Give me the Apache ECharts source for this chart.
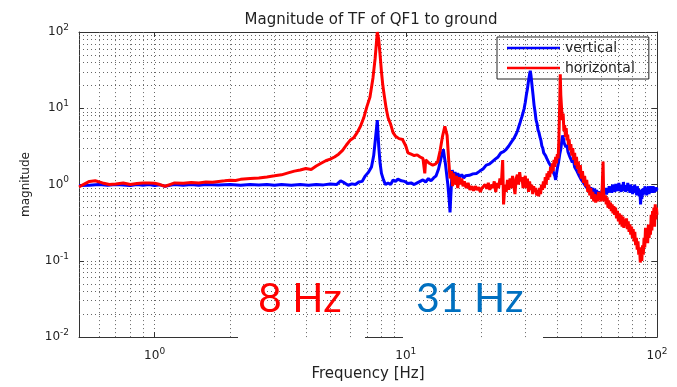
<!DOCTYPE html>
<html>
<head>
<meta charset="utf-8">
<script src="https://cdn.jsdelivr.net/npm/echarts@6/dist/echarts.min.js"></script>
<style>html,body{margin:0;padding:0;background:#fff}#c{width:677px;height:387px}</style>
</head>
<body>
<div id="c"></div>
<script>
// ---- data ----
var titleText = 'Magnitude of TF of QF1 to ground';
var seriesNames = ['vertical', 'horizontal'];
var xMajorTicks = [1, 10, 100];
var yMajorTicks = [0.01, 0.1, 1, 10, 100];
var annotations = ['8 Hz', '31 Hz'];

// [frequency Hz, magnitude]
var verticalData = [[0.5,0.97],[0.55,0.98],[0.6,1.0],[0.65,0.98],[0.7,1.0],[0.75,0.99],[0.8,0.97],[0.85,1.0],[0.9,0.98],[0.95,1.0],[1.0,0.97],[1.05,0.99],[1.1,0.95],[1.15,0.98],[1.2,1.0],[1.3,0.98],[1.4,1.0],[1.5,0.98],[1.6,1.0],[1.8,0.99],[2.0,1.0],[2.2,0.98],[2.4,1.0],[2.6,0.99],[2.8,1.0],[3.0,0.98],[3.2,1.0],[3.5,0.98],[3.8,1.0],[4.1,0.98],[4.4,1.0],[4.7,0.99],[5.0,1.02],[5.3,1.0],[5.5,1.12],[5.7,1.05],[5.9,0.98],[6.1,1.02],[6.3,1.0],[6.5,1.08],[6.7,1.1],[6.9,1.3],[7.1,1.45],[7.3,1.7],[7.45,2.4],[7.6,4.5],[7.7,7.0],[7.8,3.2],[7.9,1.9],[8.0,1.4],[8.15,1.15],[8.3,1.0],[8.5,1.05],[8.7,1.0],[8.9,1.15],[9.1,1.1],[9.3,1.18],[9.6,1.12],[9.9,1.1],[10.2,1.03],[10.5,1.05],[10.8,1.0],[11.1,1.05],[11.4,1.1],[11.7,1.15],[12.0,1.08],[12.3,1.2],[12.6,1.12],[12.9,1.22],[13.2,1.3],[13.5,1.6],[13.8,2.2],[14.1,2.9],[14.4,1.8],[14.7,1.0],[14.9,0.6],[15.0,0.43],[15.1,0.7],[15.3,1.55],[15.5,1.3],[15.7,1.45],[15.9,1.28],[16.1,1.4],[16.4,1.25],[16.7,1.35],[17.0,1.22],[17.3,1.3],[17.6,1.25],[17.9,1.32],[18.2,1.28],[18.5,1.38],[18.8,1.3],[19.1,1.4],[19.4,1.35],[19.7,1.5],[20.0,1.45],[20.3,1.6],[20.6,1.55],[20.9,1.8],[21.2,1.7],[21.5,1.85],[21.8,1.8],[22.1,2.0],[22.4,1.9],[22.7,2.15],[23.0,2.1],[23.3,2.3],[23.6,2.25],[23.9,2.6],[24.2,2.45],[24.5,2.7],[24.8,2.6],[25.1,2.9],[25.4,3.0],[25.7,3.2],[26.0,3.3],[26.3,3.6],[26.6,3.5],[26.9,4.0],[27.2,4.2],[27.5,4.6],[27.8,5.0],[28.1,5.6],[28.4,6.2],[28.7,7.0],[29.0,7.8],[29.3,8.8],[29.6,10],[29.9,12],[30.2,15],[30.5,18],[30.8,23],[31.1,28],[31.3,31],[31.5,27],[31.8,20],[32.1,15],[32.4,11],[32.7,9],[33.0,7],[33.3,6.3],[33.6,5.2],[33.9,4.8],[34.2,4.2],[34.5,3.8],[34.8,3.2],[35.1,3.0],[35.4,2.6],[35.7,2.7],[36.0,2.4],[36.4,2.2],[36.8,2.1],[37.2,1.9],[37.6,2.0],[38.0,1.7],[38.4,1.6],[38.8,1.4],[39.2,1.3],[39.5,1.15],[39.8,1.4],[40.2,1.7],[40.6,2.0],[41.0,2.5],[41.4,2.9],[41.8,3.8],[42.1,4.4],[42.4,4.0],[42.7,3.5],[43.0,3.7],[43.4,3.1],[43.8,3.3],[44.2,2.7],[44.6,2.8],[45,2.3],[45.5,2.4],[46,1.95],[46.5,2.1],[47,1.7],[47.5,1.8],[48,1.5],[48.5,1.55],[49,1.3],[49.5,1.35],[50,1.15],[50.5,1.2],[51,1.05],[51.5,1.1],[52,0.95],[52.5,1.0],[53,0.88],[53.5,0.95],[54,0.82],[54.5,0.92],[55,0.8],[55.5,0.9],[56,0.75],[56.5,0.88],[57,0.72],[57.5,0.85],[58,0.7],[58.5,0.82],[59,0.68],[59.5,0.8],[60,0.7],[60.5,0.85],[61,0.72],[61.5,0.88],[62,0.75],[62.5,0.9],[63,0.74],[63.5,0.88],[64,0.78],[64.5,0.95],[65,0.8],[65.5,0.92],[66,0.78],[66.5,1.0],[67,0.82],[67.5,0.95],[68,0.8],[68.5,1.02],[69,0.85],[69.5,0.98],[70,0.82],[70.5,1.05],[71,0.85],[71.5,0.95],[72,0.8],[72.5,1.0],[73,0.82],[73.5,1.08],[74,0.88],[74.5,0.98],[75,0.8],[75.5,0.95],[76,0.85],[76.5,1.05],[77,0.82],[77.5,0.95],[78,0.78],[78.5,1.0],[79,0.85],[79.5,0.92],[80,0.75],[80.5,0.95],[81,0.8],[81.5,1.0],[82,0.78],[82.5,0.9],[83,0.72],[83.5,0.95],[84,0.75],[84.5,0.88],[85,0.7],[85.5,0.85],[86,0.55],[86.5,0.75],[87,0.65],[87.5,0.88],[88,0.72],[88.5,0.9],[89,0.75],[89.5,0.95],[90,0.78],[90.5,0.92],[91,0.72],[91.5,0.9],[92,0.78],[92.5,0.95],[93,0.75],[93.5,0.9],[94,0.8],[94.5,0.95],[95,0.78],[95.5,0.92],[96,0.82],[96.5,0.95],[97,0.78],[97.5,0.9],[98,0.8],[98.5,0.92],[99,0.82],[99.5,0.9],[100,0.85]];

var horizontalData = [[0.5,0.93],[0.52,1.0],[0.55,1.1],[0.58,1.12],[0.62,1.05],[0.66,1.0],[0.7,1.02],[0.75,1.05],[0.8,1.0],[0.85,1.03],[0.9,1.05],[0.95,1.05],[1.0,1.04],[1.05,1.0],[1.1,0.95],[1.15,1.0],[1.2,1.05],[1.3,1.04],[1.4,1.06],[1.5,1.05],[1.6,1.08],[1.7,1.07],[1.8,1.1],[1.9,1.12],[2.0,1.14],[2.1,1.13],[2.2,1.17],[2.4,1.2],[2.6,1.22],[2.8,1.26],[3.0,1.3],[3.2,1.34],[3.4,1.42],[3.6,1.5],[3.8,1.55],[4.0,1.62],[4.2,1.58],[4.4,1.75],[4.6,1.9],[4.8,2.05],[5.0,2.15],[5.2,2.3],[5.4,2.5],[5.6,2.8],[5.8,3.3],[6.0,3.8],[6.2,4.1],[6.4,4.8],[6.6,5.8],[6.8,7.5],[7.0,10.5],[7.2,14],[7.4,25],[7.55,45],[7.7,100],[7.8,80],[7.9,50],[8.0,30],[8.1,20],[8.2,15],[8.35,10],[8.5,7.5],[8.7,6.2],[8.9,4.8],[9.1,4.3],[9.4,4.0],[9.7,3.9],[10.0,3.2],[10.2,2.6],[10.5,2.5],[10.8,2.4],[11.1,2.45],[11.4,2.3],[11.7,2.2],[11.9,1.4],[12.0,2.1],[12.4,1.9],[12.8,1.8],[13.1,1.85],[13.4,2.0],[13.7,2.8],[14.0,4.3],[14.3,5.8],[14.6,4.4],[14.8,2.2],[15.0,1.2],[15.2,1.5],[15.35,0.95],[15.5,1.4],[15.7,1.0],[15.9,1.3],[16.1,0.9],[16.3,1.25],[16.5,1.0],[16.7,1.2],[16.9,0.95],[17.1,1.1],[17.4,0.9],[17.7,1.05],[18.0,0.85],[18.3,0.95],[18.6,0.83],[18.9,0.95],[19.2,0.85],[19.5,0.92],[19.8,0.8],[20.1,0.9],[20.4,0.85],[20.7,1.0],[21.0,0.88],[21.3,1.05],[21.6,0.85],[21.9,1.0],[22.2,0.9],[22.5,1.1],[22.8,0.8],[23.1,1.05],[23.4,0.9],[23.7,1.2],[24.0,1.0],[24.3,2.1],[24.5,0.55],[24.8,1.0],[25.1,0.8],[25.4,1.15],[25.7,0.85],[26.0,1.2],[26.3,0.9],[26.6,1.3],[26.9,1.0],[27.2,0.75],[27.5,1.2],[27.8,1.35],[28.1,1.0],[28.4,1.45],[28.7,1.1],[29.0,1.25],[29.3,0.9],[29.6,1.15],[29.9,1.3],[30.2,0.9],[30.5,1.2],[30.8,0.8],[31.1,1.1],[31.4,0.85],[31.7,1.0],[32.0,0.75],[32.3,0.95],[32.6,0.8],[32.9,0.9],[33.2,0.72],[33.5,0.85],[33.8,0.7],[34.1,0.9],[34.4,0.75],[34.7,1.0],[35.0,0.85],[35.3,1.1],[35.6,0.9],[35.9,1.25],[36.2,1.0],[36.5,1.4],[36.8,1.15],[37.1,1.5],[37.4,1.25],[37.7,1.7],[38.0,1.4],[38.3,1.9],[38.6,1.5],[38.9,2.1],[39.2,1.7],[39.5,2.3],[39.8,1.9],[40.1,2.5],[40.4,2.2],[40.7,4],[41.0,12],[41.2,28],[41.4,15],[41.7,10],[42.0,7],[42.3,8.5],[42.6,5],[42.9,6],[43.2,4.2],[43.5,5.5],[43.8,3.8],[44.1,4.5],[44.4,3.3],[44.7,3.9],[45.0,2.8],[45.4,3.4],[45.8,2.4],[46.2,3.0],[46.6,2.1],[47.0,2.6],[47.4,1.8],[47.8,2.3],[48.2,1.6],[48.6,2.0],[49.0,1.4],[49.5,1.8],[50,1.2],[50.5,1.5],[51,1.05],[51.5,1.3],[52,0.95],[52.5,1.15],[53,0.8],[53.5,1.0],[54,0.72],[54.5,0.9],[55,0.65],[55.5,0.8],[56,0.6],[56.5,0.75],[57,0.58],[57.5,0.72],[58,0.6],[58.5,0.8],[59,0.62],[59.5,0.78],[60,0.6],[60.5,0.9],[61,2.0],[61.3,0.8],[61.8,0.6],[62.3,0.72],[62.8,0.55],[63.3,0.68],[63.8,0.5],[64.3,0.62],[64.8,0.48],[65.3,0.58],[65.8,0.45],[66.3,0.55],[66.8,0.42],[67.3,0.52],[67.8,0.4],[68.4,0.5],[69,0.36],[69.6,0.45],[70.2,0.33],[70.8,0.42],[71.4,0.3],[72,0.4],[72.6,0.28],[73.2,0.38],[73.8,0.27],[74.4,0.35],[75,0.3],[75.6,0.36],[76.2,0.26],[76.8,0.33],[77.4,0.24],[78,0.3],[78.6,0.22],[79.2,0.28],[79.8,0.2],[80.4,0.26],[81,0.18],[81.6,0.24],[82.2,0.16],[82.8,0.2],[83.4,0.14],[84,0.18],[84.6,0.12],[85.2,0.15],[85.8,0.095],[86.4,0.13],[87,0.1],[87.6,0.16],[88.2,0.12],[88.8,0.2],[89.4,0.15],[90,0.27],[90.6,0.18],[91.2,0.25],[91.8,0.17],[92.4,0.3],[93,0.2],[93.6,0.28],[94.2,0.22],[94.8,0.4],[95.4,0.25],[96,0.45],[96.6,0.3],[97.2,0.5],[97.8,0.28],[98.4,0.55],[99,0.35],[99.5,0.5],[100,0.4]];

// ---- build ----
var xMinor = [], yMinor = [];
[0.1, 1, 10].forEach(function (d) { for (var k = 2; k <= 9; k++) { var v = +(d * k).toPrecision(3); if (v > 0.5 && v < 100) xMinor.push(v); } });
[0.01, 0.1, 1, 10].forEach(function (d) { for (var k = 2; k <= 9; k++) yMinor.push(+(d * k).toPrecision(3)); });

var gridLines = [];
xMinor.forEach(function (v) { gridLines.push({ xAxis: v }); });
yMinor.forEach(function (v) { gridLines.push({ yAxis: v }); });

function powLabel(v) {
  var e = Math.log(v) / Math.LN10; var r = Math.round(e);
  if (Math.abs(e - r) > 1e-6) return '';
  return '10{s|' + r + '}';
}
var FONT = 'DejaVu Sans';
var labelRich = { s: { fontSize: 9, fontFamily: FONT, color: '#222', padding: [0, 0, 9, 0] } };
var dotted = { type: [1, 3], color: '#666', width: 1 };

var chart = echarts.init(document.getElementById('c'), null, { renderer: 'canvas' });
chart.setOption({
  animation: false,
  backgroundColor: '#fff',
  title: { text: titleText, left: 366, top: 8, textAlign: 'center',
    textStyle: { fontFamily: FONT, fontSize: 15, fontWeight: 'normal', color: '#222' } },
  legend: {
    data: seriesNames, orient: 'vertical', left: 497, top: 37,
    backgroundColor: '#fff', borderColor: '#222', borderWidth: 1,
    padding: [4, 14, 4, 10], itemGap: 6, itemWidth: 53, itemHeight: 2.5, icon: 'rect',
    textStyle: { fontFamily: FONT, fontSize: 14, color: '#222' }
  },
  grid: { left: 79, right: 20, top: 32, bottom: 42 },
  xAxis: [{
    type: 'log', logBase: 10, min: 0.5, max: 100,
    name: 'Frequency [Hz]', nameLocation: 'middle', nameGap: 25,
    nameTextStyle: { fontFamily: FONT, fontSize: 15, color: '#222' },
    axisLine: { show: true, lineStyle: { color: '#333' } },
    axisTick: { show: true, inside: true, length: 5, lineStyle: { color: '#333' } },
    axisLabel: { formatter: powLabel, fontFamily: FONT, fontSize: 12, color: '#222', margin: 10, rich: labelRich },
    splitLine: { show: true, lineStyle: dotted }
  }, {
    type: 'log', logBase: 10, min: 0.5, max: 100, position: 'top',
    axisLine: { show: true, lineStyle: { color: '#333' } },
    axisTick: { show: true, inside: true, length: 5, lineStyle: { color: '#333' } },
    axisLabel: { show: false }, splitLine: { show: false }
  }],
  yAxis: [{
    type: 'log', logBase: 10, min: 0.01, max: 100,
    name: 'magnitude', nameLocation: 'middle', nameGap: 47, nameRotate: 90,
    nameTextStyle: { fontFamily: FONT, fontSize: 12, color: '#222' },
    axisLine: { show: true, lineStyle: { color: '#333' } },
    axisTick: { show: true, inside: true, length: 5, lineStyle: { color: '#333' } },
    axisLabel: { formatter: powLabel, fontFamily: FONT, fontSize: 12, color: '#222', margin: 10, rich: labelRich },
    splitLine: { show: true, lineStyle: dotted }
  }, {
    type: 'log', logBase: 10, min: 0.01, max: 100, position: 'right',
    axisLine: { show: true, lineStyle: { color: '#333' } },
    axisTick: { show: true, inside: true, length: 5, lineStyle: { color: '#333' } },
    axisLabel: { show: false }, splitLine: { show: false }
  }],
  graphic: [
    { type: 'rect', z: 5, shape: { x: 238, y: 265, width: 127, height: 79 }, style: { fill: '#fff' }, silent: true },
    { type: 'rect', z: 5, shape: { x: 403, y: 265, width: 140, height: 79 }, style: { fill: '#fff' }, silent: true },
    { type: 'text', z: 6, left: 258, top: 278, style: { text: annotations[0], fill: '#FF0000', font: '41px Lato' } },
    { type: 'text', z: 6, left: 416, top: 278, style: { text: annotations[1], fill: '#0070C0', font: '41px Lato' } }
  ],
  series: [
    { name: '_grid', type: 'line', data: [], z: 1, silent: true,
      markLine: { silent: true, symbol: ['none', 'none'], label: { show: false }, animation: false,
        lineStyle: dotted, emphasis: { disabled: true }, data: gridLines } },
    { name: seriesNames[0], type: 'line', z: 8, data: verticalData, showSymbol: false,
      lineStyle: { color: '#0000FF', width: 3 }, itemStyle: { color: '#0000FF' } },
    { name: seriesNames[1], type: 'line', z: 9, data: horizontalData, showSymbol: false,
      lineStyle: { color: '#FF0000', width: 3 }, itemStyle: { color: '#FF0000' } }
  ]
});
</script>
</body>
</html>
